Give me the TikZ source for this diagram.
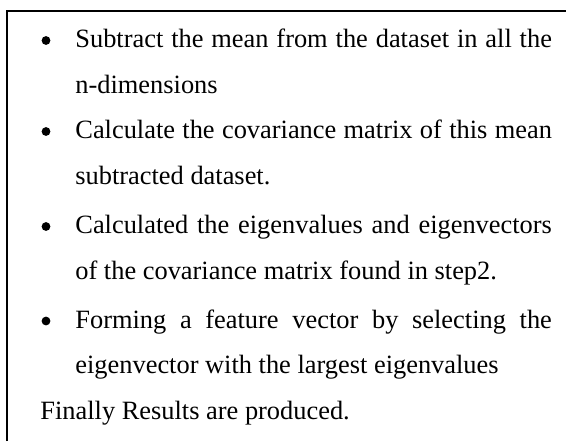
\documentclass[tikz,border=0pt]{standalone}
\usepackage{fontspec}
\setmainfont{Liberation Serif}
\usetikzlibrary{positioning}

\begin{document}
\begin{tikzpicture}[
            x=0.5pt, y=-0.5pt,
            % ----- Styles -----
                txt/.style={
                    anchor=base west, inner sep=0pt,
                    font=\fontsize{13.2pt}{22.75pt}\selectfont
                },
                item/.style={txt, text width=238.25pt, align=justify},
                dot/.style={circle, fill=black, inner sep=0pt, minimum size=4.4pt},
                frame/.style={line width=1pt}
            ]

% ===================== Rahmen ==================================
                \useasboundingbox (0,0) rectangle (566,441);
                \draw[frame] (6.8,441) -- (6.8,11) -- (566,11);

% ===================== Aufzaehlung =============================
                \node[item] (s1) at (75, 47.5)
                    {Subtract the mean from the dataset in all the\linebreak
                     n-dimensions};
                \node[item] (s2) at (75, 138.5)
                    {Calculate the covariance matrix of this mean\linebreak
                     subtracted dataset.};
                \node[item] (s3) at (75, 233.5)
                    {Calculated the eigenvalues and eigenvectors\linebreak
                     of the covariance matrix found in step2.};
                \node[item] (s4) at (75, 328)
                    {Forming a feature vector by selecting the\linebreak
                     eigenvector with the largest eigenvalues};

% Punkte vor den Eintraegen
                \foreach \n/\y in {s1/40.5, s2/131.5, s3/226.5, s4/321}
                    \node[dot] (b\n) at (46, \y) {};

% ===================== Schlusszeile ============================
                \node[txt] (fin) at (40, 419) {Finally Results are produced.};

\end{tikzpicture}
\end{document}
